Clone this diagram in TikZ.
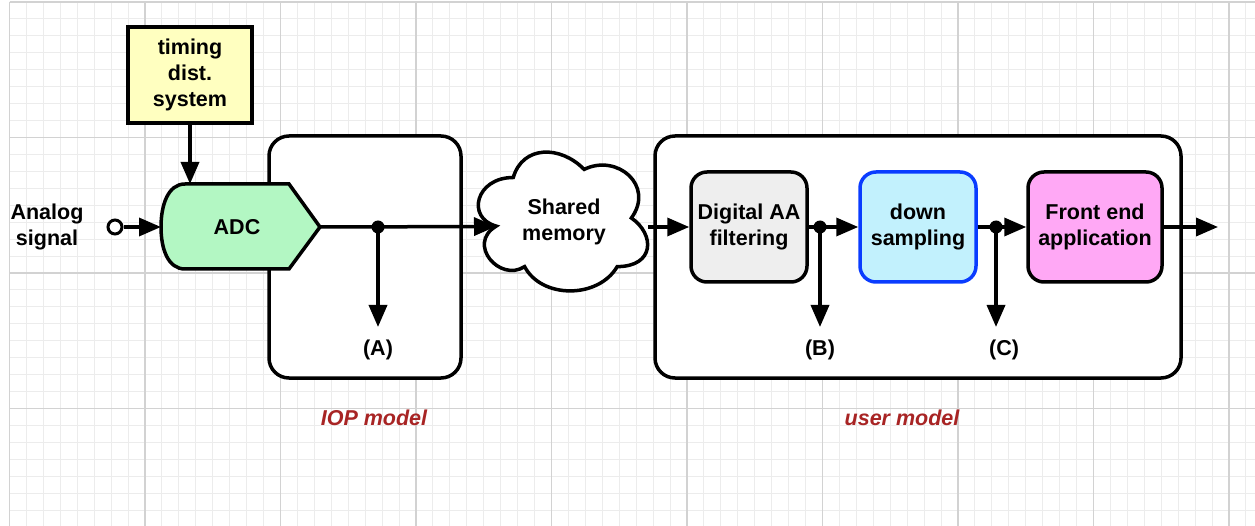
\documentclass[tikz,border=0pt]{standalone}
\usepackage{fontspec}
\setmainfont{Liberation Sans}
\usetikzlibrary{arrows.meta}
\definecolor{gridminor}{RGB}{236,236,236}
\definecolor{gridmajor}{RGB}{210,210,210}
\definecolor{tdsfill}{RGB}{255,255,192}
\definecolor{adcfill}{RGB}{179,247,195}
\definecolor{aafill}{RGB}{238,238,238}
\definecolor{dsfill}{RGB}{194,241,253}
\definecolor{dsdraw}{RGB}{10,60,255}
\definecolor{fefill}{RGB}{255,168,245}
\definecolor{modelred}{RGB}{168,36,36}
\begin{document}
\begin{tikzpicture}[x=1pt,y=-1pt,
  every node/.style={font=\fontsize{21.5}{26}\selectfont\bfseries, align=center, inner sep=0pt},
  wire/.style={line width=3.5pt},
  flow/.style={wire, -{Triangle[length=22pt,width=18pt]}},
  frame/.style={draw, line width=3.5pt, rounded corners=20pt, fill=white},
  block/.style={draw, line width=3.5pt, rounded corners=16pt, minimum width=116pt, minimum height=110pt},
  tap/.style={circle, fill, minimum size=13pt},
  model/.style={text=modelred, font=\fontsize{21.5}{26}\selectfont\bfseries\itshape},
]
% canvas and background grid
\fill[white] (0,0) rectangle (1255,526);
\useasboundingbox (0,0) rectangle (1255,526);
\foreach \i in {0,...,73} {
  \draw[gridminor, line width=1pt] ({9.5+\i*16.9375},2) -- ({9.5+\i*16.9375},526);
}
\foreach \j in {0,...,30} {
  \draw[gridminor, line width=1pt] (9.5,{2+\j*16.9375}) -- (1255,{2+\j*16.9375});
}
\foreach \i in {0,...,9} {
  \draw[gridmajor, line width=1.2pt] ({9.5+\i*135.5},2) -- ({9.5+\i*135.5},526);
}
\foreach \j in {0,...,3} {
  \draw[gridmajor, line width=1.2pt] (9.5,{2+\j*135.5}) -- (1255,{2+\j*135.5});
}

% model frames
\node[frame, minimum width=192pt, minimum height=242pt] (iop) at (365,257) {};
\node[frame, minimum width=526pt, minimum height=242pt] (user) at (918,257) {};
\node[model] (iopl) at (374,418) {IOP model};
\node[model] (userl) at (902,418) {user model};

% timing distribution system
\node[draw, line width=3.5pt, fill=tdsfill, minimum width=124pt, minimum height=96pt] (tds) at (190,75) {timing\\dist.\\system};

% ADC: curved input side, pointed output side
\draw[line width=3.5pt, fill=adcfill, line join=miter]
  (185,184) -- (289,184) -- (320,227) -- (289,269) -- (185,269)
  .. controls (168,269) and (161,249) .. (161,227)
  .. controls (161,205) and (168,184) .. (185,184) -- cycle;
\node (adc) at (237,227) {ADC};
\coordinate (adcin) at (161,227);
\coordinate (adcout) at (320,227);
\coordinate (adctop) at (190,184);

% analog input
\node (ana) at (47,227) {Analog\\signal};
\node[circle, draw, line width=3pt, fill=white, minimum size=14pt] (src) at (115,227) {};

% shared memory cloud
\draw[line width=3.5pt, fill=white]
  (513.25,177.5)
  .. controls (475.45,177.5) and (466,218) .. (496.24,226.1)
  .. controls (466,243.92) and (500.02,282.8) .. (524.59,266.6)
  .. controls (541.6,299) and (598.3,299) .. (617.2,266.6)
  .. controls (655,266.6) and (655,234.2) .. (631.375,218)
  .. controls (655,185.6) and (617.2,153.2) .. (584.125,169.4)
  .. controls (560.5,145.1) and (522.7,145.1) .. (513.25,177.5) -- cycle;
\node (mem) at (564,221.5) {Shared\\memory};
\coordinate (memin) at (496,226.5);
\coordinate (memout) at (648,227);

% user model blocks
\node[block, fill=aafill] (aa) at (749,227) {Digital AA\\filtering};
\node[block, fill=dsfill, draw=dsdraw] (ds) at (918,227) {down\\sampling};
\node[block, fill=fefill, minimum width=134pt] (fe) at (1095,227) {Front end\\application};

% observation taps
\coordinate (tapApos) at (378,227);
\coordinate (tapBpos) at (820,227);
\coordinate (tapCpos) at (996,227);
\coordinate (outA) at (378,327);
\coordinate (outB) at (820,327);
\coordinate (outC) at (996,327);
\coordinate (feout) at (1218,227);
\node (labA) at (378,350) {(A)};
\node (labB) at (820,350) {(B)};
\node (labC) at (1004,350) {(C)};

% signal flow
\draw[flow] (src) -- (adcin);
\draw[flow] (tds) -- (adctop);
\draw[flow] (adcout) -- (memin);
\draw[flow] (memout) -- (aa);
\draw[flow] (aa) -- (ds);
\draw[flow] (ds) -- (fe);
\draw[flow] (fe) -- (feout);
\draw[flow] (tapApos) -- (outA);
\draw[flow] (tapBpos) -- (outB);
\draw[flow] (tapCpos) -- (outC);
\node[tap] (tapA) at (tapApos) {};
\node[tap] (tapB) at (tapBpos) {};
\node[tap] (tapC) at (tapCpos) {};
\end{tikzpicture}
\end{document}
